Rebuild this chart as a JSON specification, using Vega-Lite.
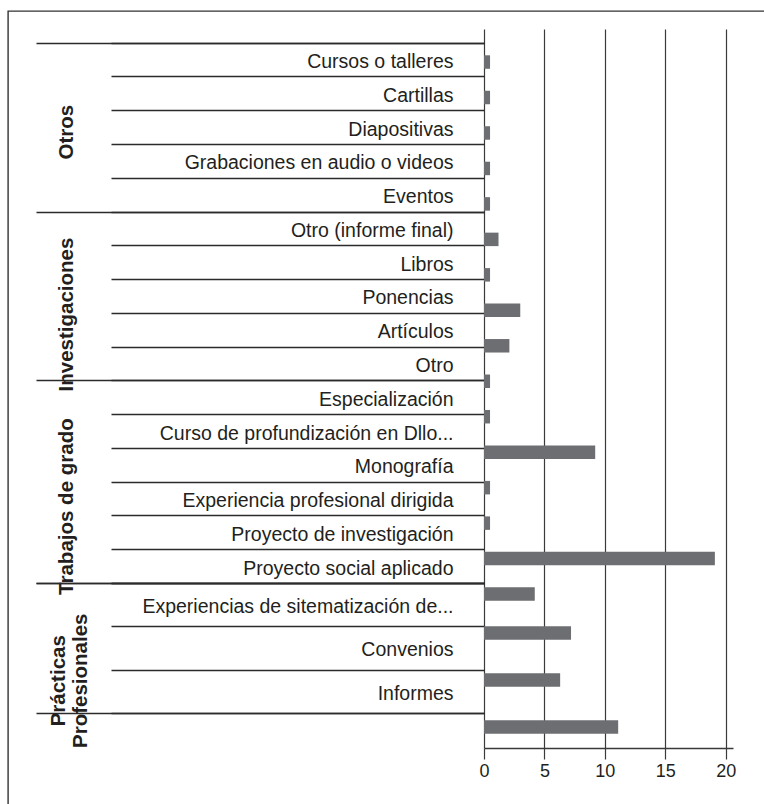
{
  "$schema": "https://vega.github.io/schema/vega-lite/v6.json",
  "width": 758,
  "height": 796,
  "autosize": {"type": "none"},
  "padding": {"left": 8, "top": 11, "right": -2, "bottom": -3},
  "background": "white",
  "config": {
    "view": {"stroke": "#333333", "strokeWidth": 1.4},
    "font": "Liberation Sans, Arial, sans-serif",
    "axis": {"labelFont": "Liberation Sans, Arial, sans-serif"}
  },
  "data": {
    "values": [
      {"group": "Otros", "item": "Cursos o talleres", "value": 0.5},
      {"group": "Otros", "item": "Cartillas", "value": 0.5},
      {"group": "Otros", "item": "Diapositivas", "value": 0.5},
      {"group": "Otros", "item": "Grabaciones en audio o videos", "value": 0.5},
      {"group": "Otros", "item": "Eventos", "value": 0.5},
      {"group": "Investigaciones", "item": "Otro (informe final)", "value": 1.2},
      {"group": "Investigaciones", "item": "Libros", "value": 0.5},
      {"group": "Investigaciones", "item": "Ponencias", "value": 3.0},
      {"group": "Investigaciones", "item": "Artículos", "value": 2.1},
      {"group": "Investigaciones", "item": "Otro", "value": 0.5},
      {"group": "Trabajos de grado", "item": "Especialización", "value": 0.5},
      {"group": "Trabajos de grado", "item": "Curso de profundización en Dllo...", "value": 9.2},
      {"group": "Trabajos de grado", "item": "Monografía", "value": 0.5},
      {"group": "Trabajos de grado", "item": "Experiencia profesional  dirigida", "value": 0.5},
      {"group": "Trabajos de grado", "item": "Proyecto de investigación", "value": 19.1},
      {"group": "Trabajos de grado", "item": "Proyecto social aplicado", "value": 4.2},
      {"group": "Prácticas Profesionales", "item": "Experiencias de sitematización de...", "value": 7.2},
      {"group": "Prácticas Profesionales", "item": "Convenios", "value": 6.3},
      {"group": "Prácticas Profesionales", "item": "Informes", "value": 11.1}
    ]
  },
  "layer": [
    {
      "transform": [{"filter": "datum.group !== 'Prácticas Profesionales'"}],
      "mark": {"type": "bar", "color": "#6d6e71"},
      "encoding": {
        "x": {
          "field": "value", "type": "quantitative",
          "scale": {"domain": [0, 20.6], "nice": false, "range": [476, 725]},
          "axis": {
            "orient": "bottom", "offset": -59,
            "values": [0, 5, 10, 15, 20], "title": null, "grid": false,
            "tickSize": 11, "tickColor": "#3a3a3a", "tickWidth": 1.2,
            "domainColor": "#3a3a3a", "domainWidth": 1.3,
            "labelFontSize": 18, "labelColor": "#231f20", "labelPadding": 3, "labelFlush": false
          }
        },
        "y": {
          "field": "item", "type": "nominal", "sort": null,
          "scale": {"type": "band", "paddingInner": 0.62, "paddingOuter": 0.31, "range": [33.3, 600.8]},
          "axis": null
        }
      }
    },
    {
      "transform": [{"filter": "datum.group === 'Prácticas Profesionales'"}],
      "mark": {"type": "bar", "color": "#6d6e71"},
      "encoding": {
        "x": {
          "field": "value", "type": "quantitative",
          "axis": {
            "orient": "top", "offset": -18,
            "values": [0, 5, 10, 15, 20], "title": null, "grid": false,
            "domain": false, "labels": false,
            "tickSize": -719, "tickColor": "#3a3a3a", "tickWidth": 1.2
          }
        },
        "y": {
          "field": "item", "type": "nominal", "sort": null,
          "scale": {"type": "band", "paddingInner": 0.713, "paddingOuter": 0.3565, "range": [598.5, 739.5]},
          "axis": null
        }
      }
    },
    {
      "transform": [{"filter": "datum.group !== 'Prácticas Profesionales'"}],
      "mark": {"type": "point", "opacity": 0},
      "encoding": {
        "y": {
          "field": "item", "type": "nominal", "sort": null,
          "scale": {"type": "band", "paddingInner": 0, "paddingOuter": 0, "range": [31.7, 572.0]},
          "axis": {
            "orient": "left", "offset": -476, "title": null, "domain": false, "tickBand": "extent",
            "tickSize": 373, "tickColor": "#2b2b2b", "tickWidth": 1.3,
            "labelPadding": -342, "labelFontSize": 19.5, "labelColor": "#231f20",
            "labelLimit": 0, "labelOverlap": false, "labelOffset": 2
          }
        }
      }
    },
    {
      "transform": [{"filter": "datum.group !== 'Prácticas Profesionales'"}],
      "mark": {"type": "point", "opacity": 0},
      "encoding": {
        "y": {
          "field": "item", "type": "nominal", "sort": null,
          "scale": {"type": "band", "paddingInner": 0, "paddingOuter": 0, "range": [31.7, 572.0]},
          "axis": {
            "orient": "left", "offset": -476, "title": null, "domain": false, "tickBand": "extent",
            "values": ["Cursos o talleres", "Eventos", "Otro", "Proyecto social aplicado"],
            "tickSize": 448, "tickColor": "#2b2b2b", "tickWidth": 1.3,
            "tickOpacity": {"condition": {"test": "datum.value === 'Cursos o talleres'", "value": 0}, "value": 1},
            "labelExpr": "datum.value === 'Eventos' ? 'Otros' : datum.value === 'Otro' ? 'Investigaciones' : datum.value === 'Proyecto social aplicado' ? 'Trabajos de grado' : ''",
            "labelAngle": 270, "labelAlign": "center", "labelBaseline": "middle",
            "labelFontWeight": "bold", "labelFontSize": 20.5, "labelColor": "#231f20",
            "labelPadding": -30, "labelLimit": 0, "labelOverlap": false,
            "labelOffset": {"condition": [{"test": "datum.value === 'Eventos'", "value": -63}, {"test": "datum.value === 'Otro'", "value": -49.5}], "value": -60}
          }
        }
      }
    },
    {
      "transform": [{"filter": "datum.group === 'Prácticas Profesionales'"}],
      "mark": {"type": "point", "opacity": 0},
      "encoding": {
        "y": {
          "field": "item", "type": "nominal", "sort": null,
          "scale": {"type": "band", "paddingInner": 0, "paddingOuter": 0, "range": [572.0, 701.9]},
          "axis": {
            "orient": "left", "offset": -476, "title": null, "domain": false, "tickBand": "extent",
            "tickSize": 373, "tickColor": "#2b2b2b", "tickWidth": 1.3,
            "labelPadding": -342, "labelFontSize": 19.5, "labelColor": "#231f20",
            "labelLimit": 0, "labelOverlap": false, "labelOffset": 2
          }
        }
      }
    },
    {
      "transform": [{"filter": "datum.group === 'Prácticas Profesionales'"}],
      "mark": {"type": "point", "opacity": 0},
      "encoding": {
        "y": {
          "field": "item", "type": "nominal", "sort": null,
          "scale": {"type": "band", "paddingInner": 0, "paddingOuter": 0, "range": [572.0, 701.9]},
          "axis": {
            "orient": "left", "offset": -476, "title": null, "domain": false, "tickBand": "extent",
            "values": ["Experiencias de sitematización de...", "Informes"],
            "tickSize": 448, "tickColor": "#2b2b2b", "tickWidth": 1.3,
            "tickOpacity": {"condition": {"test": "datum.value === 'Experiencias de sitematización de...'", "value": 0}, "value": 1},
            "labelExpr": "datum.value === 'Informes' ? ['Prácticas', 'Profesionales'] : ''",
            "labelAngle": 270, "labelAlign": "center", "labelBaseline": "middle",
            "labelFontWeight": "bold", "labelFontSize": 20.5, "labelColor": "#231f20",
            "labelPadding": -22, "labelLimit": 0, "labelOverlap": false, "labelOffset": -11
          }
        }
      }
    }
  ],
  "resolve": {"scale": {"y": "independent", "x": "shared"}, "axis": {"x": "independent"}}
}
